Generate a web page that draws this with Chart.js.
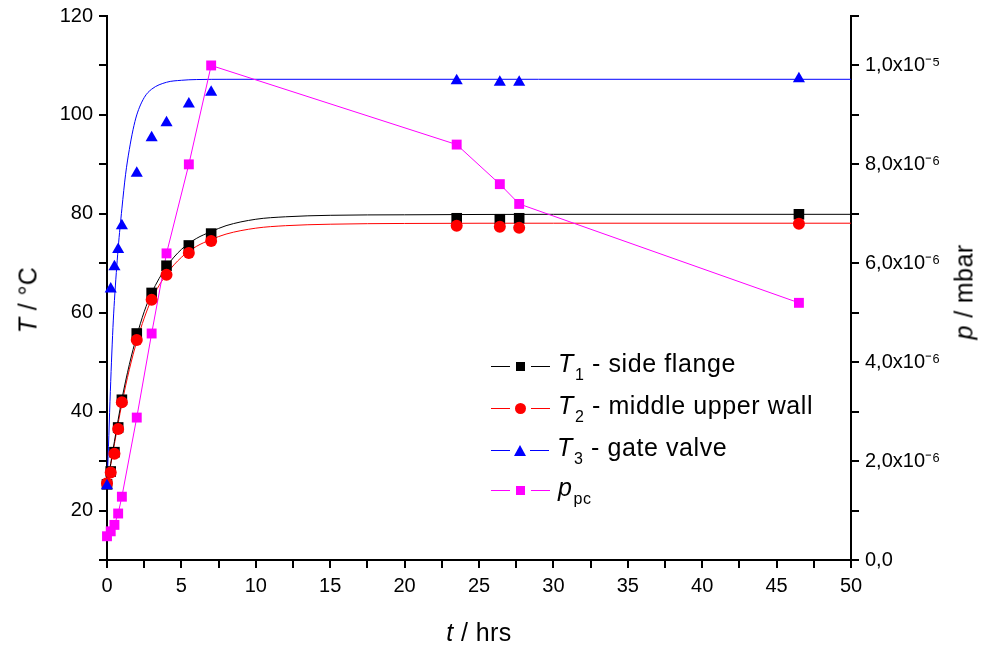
<!DOCTYPE html>
<html>
<head>
<meta charset="utf-8">
<script src="https://cdn.jsdelivr.net/npm/chart.js@4.4.1/dist/chart.umd.min.js"></script>
<style>
  body { margin: 0; background: #fff; }
  #wrap { position: relative; width: 981px; height: 650px; font-family: "Liberation Sans", Arial, sans-serif; color: #000; }
  #grafico { position: absolute; left: 0; top: 0; }
  .titulo { position: absolute; font-size: 25px; white-space: nowrap; transform: translate(-50%, -50%); letter-spacing: 0.4px; }
  .rot { transform: translate(-50%, -50%) rotate(-90deg); }
  .legenda { position: absolute; left: 491px; font-size: 25px; white-space: nowrap; letter-spacing: 0.6px; }
  .linha-leg { position: absolute; display: flex; align-items: center; height: 30px; transform: translateY(-50%); }
  .traco { display: inline-block; width: 19px; height: 1px; }
  .marca { display: inline-block; margin: 0 6px; }
  .texto { margin-left: 8px; }
  sub { font-size: 16px; vertical-align: -8px; font-style: normal; margin-left: 1px; }
</style>
</head>
<body>
<div id="wrap">
  <canvas id="grafico" width="981" height="650"></canvas>
  <div class="titulo rot" style="left:28px; top:300px;"><i>T</i> / °C</div>
  <div class="titulo rot" style="left:964px; top:292px;"><i>p</i> / mbar</div>
  <div class="titulo" style="left:479px; top:632px;"><i>t</i> / hrs</div>

  <div class="legenda">
    <div class="linha-leg" style="top:366px;">
      <span class="traco" style="background:#000"></span>
      <span class="marca" style="width:9px;height:9px;background:#000;"></span>
      <span class="traco" style="background:#000"></span>
      <span class="texto"><i>T</i><sub>1</sub> - side flange</span>
    </div>
    <div class="linha-leg" style="top:408px;">
      <span class="traco" style="background:#f00"></span>
      <span class="marca" style="width:11px;height:11px;border-radius:50%;background:#f00;margin:0 5px;"></span>
      <span class="traco" style="background:#f00"></span>
      <span class="texto"><i>T</i><sub>2</sub> - middle upper wall</span>
    </div>
    <div class="linha-leg" style="top:450px;">
      <span class="traco" style="background:#00f"></span>
      <span class="marca" style="width:0;height:0;border-left:6px solid transparent;border-right:6px solid transparent;border-bottom:11px solid #00f;margin:0 4px;"></span>
      <span class="traco" style="background:#00f"></span>
      <span class="texto"><i>T</i><sub>3</sub> - gate valve</span>
    </div>
    <div class="linha-leg" style="top:490px;">
      <span class="traco" style="background:#f0f"></span>
      <span class="marca" style="width:9px;height:9px;background:#f0f;"></span>
      <span class="traco" style="background:#f0f"></span>
      <span class="texto"><i>p</i><sub>pc</sub></span>
    </div>
  </div>
</div>
<script>
// === DADOS MEDIDOS ===
const tempo = [0, 0.25, 0.5, 0.75, 1, 2, 3, 4, 5.5, 7, 23.5, 26.4, 27.7, 46.5];
const tempT1 = [25.3, 27.9, 31.8, 36.8, 42.4, 55.8, 64.0, 69.5, 73.6, 76.0, 79.1, 78.9, 79.1, 79.9];
const tempT2 = [25.5, 27.7, 31.5, 36.5, 41.9, 54.5, 62.6, 67.7, 72.1, 74.5, 77.6, 77.4, 77.2, 78.0];
const tempT3 = [25.0, 64.8, 69.3, 72.8, 77.6, 88.2, 95.4, 98.4, 102.2, 104.6, 106.9, 106.6, 106.6, 107.3];
const pressao = [0.48e-6, 0.58e-6, 0.71e-6, 0.94e-6, 1.28e-6, 2.88e-6, 4.58e-6, 6.2e-6, 8.0e-6, 1.0e-5, 8.4e-6, 7.6e-6, 7.2e-6, 5.2e-6];

// === CURVAS DE AJUSTE ===
const tempoAjuste = [0, 0.5, 1, 1.5, 2, 2.5, 3, 4, 5, 6, 7, 8, 10, 12, 15, 20, 30, 50];
const ajusteT1 = [25.0, 34.0, 42.5, 49.5, 55.3, 60.2, 64.0, 69.3, 72.8, 75.0, 76.4, 77.6, 78.9, 79.4, 79.7, 79.8, 79.9, 79.9];
const ajusteT2 = [25.0, 33.5, 41.6, 48.5, 54.2, 58.9, 62.7, 67.8, 71.2, 73.4, 74.8, 75.9, 77.1, 77.6, 77.9, 78.05, 78.1, 78.1];
const tempoAjusteT3 = [0, 0.1, 0.2, 0.3, 0.4, 0.5, 0.75, 1, 1.25, 1.5, 1.75, 2, 2.5, 3, 4, 5, 6, 8, 50];
const ajusteT3 = [25.0, 33.0, 42.0, 50.0, 57.0, 62.5, 73.0, 81.0, 88.0, 93.0, 97.0, 100.0, 103.5, 105.2, 106.6, 107.0, 107.15, 107.2, 107.2];

const pontos = (xs, ys) => xs.map((x, i) => ({ x: x, y: ys[i] }));

const fonteTicks = { family: '"Liberation Sans", Arial, sans-serif', size: 20, lineHeight: 1 };
const gradeEixo = { drawOnChartArea: false, drawTicks: true, tickLength: 8, color: '#000', lineWidth: 2 };
const bordaEixo = { display: true, color: '#000', width: 2 };

new Chart(document.getElementById('grafico'), {
  type: 'scatter',
  data: {
    datasets: [
      { data: pontos(tempoAjuste, ajusteT1), showLine: true, borderColor: '#000', borderWidth: 1, pointRadius: 0, cubicInterpolationMode: 'monotone', yAxisID: 'y', order: 10 },
      { data: pontos(tempoAjuste, ajusteT2), showLine: true, borderColor: '#f00', borderWidth: 1, pointRadius: 0, cubicInterpolationMode: 'monotone', yAxisID: 'y', order: 10 },
      { data: pontos(tempoAjusteT3, ajusteT3), showLine: true, borderColor: '#00f', borderWidth: 1, pointRadius: 0, cubicInterpolationMode: 'monotone', yAxisID: 'y', order: 10 },
      { data: pontos(tempo, pressao), showLine: true, borderColor: '#f0f', borderWidth: 1, pointStyle: 'rect', pointRadius: 7, backgroundColor: '#f0f', pointBorderColor: '#f0f', pointBorderWidth: 0, yAxisID: 'y2', order: 5, clip: false },
      { data: pontos(tempo, tempT1), pointStyle: 'rect', pointRadius: 7.5, backgroundColor: '#000', pointBorderColor: '#000', pointBorderWidth: 0, yAxisID: 'y', order: 3, clip: false },
      { data: pontos(tempo, tempT2), pointStyle: 'circle', pointRadius: 6, backgroundColor: '#f00', pointBorderColor: '#f00', pointBorderWidth: 0, yAxisID: 'y', order: 2, clip: false },
      { data: pontos(tempo, tempT3), pointStyle: 'triangle', pointRadius: 7, backgroundColor: '#00f', pointBorderColor: '#00f', pointBorderWidth: 0, yAxisID: 'y', order: 1, clip: false }
    ]
  },
  options: {
    responsive: false,
    animation: false,
    layout: { padding: { top: 15, left: 0, right: 0, bottom: 0 } },
    plugins: { legend: { display: false }, tooltip: { enabled: false } },
    scales: {
      x: {
        type: 'linear', position: 'bottom', min: 0, max: 50,
        ticks: { stepSize: 2.5, autoSkip: false, maxRotation: 0, color: '#000', font: fonteTicks, padding: 8,
          callback: v => (v % 5 === 0 ? String(v) : '') },
        grid: gradeEixo, border: bordaEixo,
        afterFit: s => { s.height = 90; }
      },
      y: {
        type: 'linear', position: 'left', min: 10, max: 120,
        ticks: { stepSize: 10, autoSkip: false, color: '#000', font: fonteTicks, padding: 6,
          callback: v => (v % 20 === 0 ? String(v) : '') },
        grid: gradeEixo, border: bordaEixo,
        afterFit: s => { s.width = 107; }
      },
      y2: {
        type: 'linear', position: 'right', min: 0, max: 1.1e-5,
        ticks: { stepSize: 1e-6, autoSkip: false, color: '#000', font: fonteTicks, padding: 6,
          callback: v => {
            const n = Math.round(v / 1e-6);
            if (n % 2) return '';
            if (n === 0) return '0,0';
            if (n === 10) return '1,0x10⁻⁵';
            return n + ',0x10⁻⁶';
          } },
        grid: gradeEixo, border: bordaEixo,
        afterFit: s => { s.width = 130; }
      }
    }
  }
});
</script>
</body>
</html>
